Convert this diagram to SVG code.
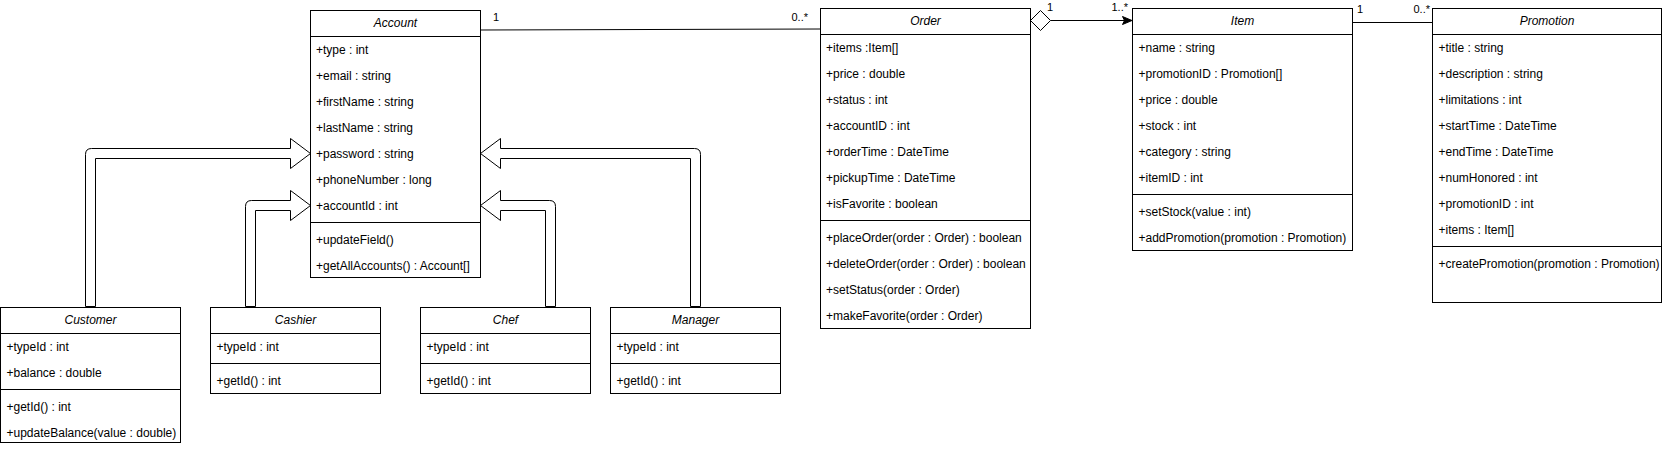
<svg xmlns="http://www.w3.org/2000/svg" width="1663" height="451" viewBox="0 0 1663 451">
<style>
.box{fill:#fff;stroke:#000;stroke-width:1}
.sep{stroke:#000;stroke-width:1;fill:none}
.t{font-family:"Liberation Sans",Arial,Helvetica,sans-serif;font-size:12px;fill:#000}
.h{font-family:"Liberation Sans",Arial,Helvetica,sans-serif;font-size:12px;font-style:italic;fill:#000;text-anchor:middle}
.lbl{font-family:"Liberation Sans",Arial,Helvetica,sans-serif;font-size:11px;fill:#000}
.flex{fill:#fff;stroke:#000;stroke-width:1;stroke-linejoin:miter}
.ln{stroke:#000;stroke-width:1;fill:none}
</style>
<rect width="1663" height="451" fill="#fff"/>
<g id="connectors">
  <path class="flex" d="M85.5 306.5 L85.5 154.5 Q85.5 148.5 91.5 148.5 L290.5 148.5 L290.5 138.5 L310.5 153.5 L290.5 168.5 L290.5 158.5 L95.5 158.5 L95.5 306.5 Z"/>
  <path class="flex" d="M245.5 306.5 L245.5 206.5 Q245.5 200.5 251.5 200.5 L290.5 200.5 L290.5 190.5 L310.5 205.5 L290.5 220.5 L290.5 210.5 L255.5 210.5 L255.5 306.5 Z"/>
  <path class="flex" d="M555.5 306.5 L555.5 206.5 Q555.5 200.5 549.5 200.5 L500.5 200.5 L500.5 190.5 L480.5 205.5 L500.5 220.5 L500.5 210.5 L545.5 210.5 L545.5 306.5 Z"/>
  <path class="flex" d="M700.5 306.5 L700.5 154.5 Q700.5 148.5 694.5 148.5 L500.5 148.5 L500.5 138.5 L480.5 153.5 L500.5 168.5 L500.5 158.5 L690.5 158.5 L690.5 306.5 Z"/>
  <path class="ln" d="M480.5 30 L820.5 29"/>
  <text class="lbl" x="493" y="21">1</text>
  <text class="lbl" x="808" y="21" text-anchor="end">0..*</text>
  <path class="ln" d="M1050.5 20.5 L1125 20.5"/>
  <path d="M1030.5 20.5 L1040.5 10.5 L1050.5 20.5 L1040.5 30.5 Z" fill="#fff" stroke="#000" stroke-width="1"/>
  <path d="M1132 20.5 L1122.5 16.5 L1124.5 20.5 L1122.5 24.5 Z" fill="#000" stroke="#000" stroke-width="1"/>
  <text class="lbl" x="1047" y="11">1</text>
  <text class="lbl" x="1128" y="11" text-anchor="end">1..*</text>
  <path class="ln" d="M1352.5 22.5 L1432.5 22.5"/>
  <text class="lbl" x="1357" y="13">1</text>
  <text class="lbl" x="1430" y="13" text-anchor="end">0..*</text>
</g>
<g id="account">
  <rect class="box" x="310.5" y="10.5" width="170" height="267"/>
  <path class="sep" d="M310.5 36.5 H480.5 M310.5 222.5 H480.5"/>
  <text class="h" x="395.5" y="27">Account</text>
  <text class="t" x="316" y="54">+type : int</text>
  <text class="t" x="316" y="80">+email : string</text>
  <text class="t" x="316" y="106">+firstName : string</text>
  <text class="t" x="316" y="132">+lastName : string</text>
  <text class="t" x="316" y="158">+password : string</text>
  <text class="t" x="316" y="184">+phoneNumber : long</text>
  <text class="t" x="316" y="210">+accountId : int</text>
  <text class="t" x="316" y="244">+updateField()</text>
  <text class="t" x="316" y="270">+getAllAccounts() : Account[]</text>
</g>
<g id="order">
  <rect class="box" x="820.5" y="8.5" width="210" height="320"/>
  <path class="sep" d="M820.5 34.5 H1030.5 M820.5 220.5 H1030.5"/>
  <text class="h" x="925.5" y="25">Order</text>
  <text class="t" x="826" y="52">+items :Item[]</text>
  <text class="t" x="826" y="78">+price : double</text>
  <text class="t" x="826" y="104">+status : int</text>
  <text class="t" x="826" y="130">+accountID : int</text>
  <text class="t" x="826" y="156">+orderTime : DateTime</text>
  <text class="t" x="826" y="182">+pickupTime : DateTime</text>
  <text class="t" x="826" y="208">+isFavorite : boolean</text>
  <text class="t" x="826" y="242">+placeOrder(order : Order) : boolean</text>
  <text class="t" x="826" y="268">+deleteOrder(order : Order) : boolean</text>
  <text class="t" x="826" y="294">+setStatus(order : Order)</text>
  <text class="t" x="826" y="320">+makeFavorite(order : Order)</text>
</g>
<g id="item">
  <rect class="box" x="1132.5" y="8.5" width="220" height="242"/>
  <path class="sep" d="M1132.5 34.5 H1352.5 M1132.5 194.5 H1352.5"/>
  <text class="h" x="1242.5" y="25">Item</text>
  <text class="t" x="1138.5" y="52">+name : string</text>
  <text class="t" x="1138.5" y="78">+promotionID : Promotion[]</text>
  <text class="t" x="1138.5" y="104">+price : double</text>
  <text class="t" x="1138.5" y="130">+stock : int</text>
  <text class="t" x="1138.5" y="156">+category : string</text>
  <text class="t" x="1138.5" y="182">+itemID : int</text>
  <text class="t" x="1138.5" y="216">+setStock(value : int)</text>
  <text class="t" x="1138.5" y="242">+addPromotion(promotion : Promotion)</text>
</g>
<g id="promotion">
  <rect class="box" x="1432.5" y="8.5" width="229" height="294"/>
  <path class="sep" d="M1432.5 34.5 H1661.5 M1432.5 246.5 H1661.5"/>
  <text class="h" x="1547" y="25">Promotion</text>
  <text class="t" x="1438.5" y="52">+title : string</text>
  <text class="t" x="1438.5" y="78">+description : string</text>
  <text class="t" x="1438.5" y="104">+limitations : int</text>
  <text class="t" x="1438.5" y="130">+startTime : DateTime</text>
  <text class="t" x="1438.5" y="156">+endTime : DateTime</text>
  <text class="t" x="1438.5" y="182">+numHonored : int</text>
  <text class="t" x="1438.5" y="208">+promotionID : int</text>
  <text class="t" x="1438.5" y="234">+items : Item[]</text>
  <text class="t" x="1438.5" y="268">+createPromotion(promotion : Promotion)</text>
</g>
<g id="customer">
  <rect class="box" x="0.5" y="307.5" width="180" height="135"/>
  <path class="sep" d="M0.5 333.5 H180.5 M0.5 389.5 H180.5"/>
  <text class="h" x="90.5" y="324">Customer</text>
  <text class="t" x="6.5" y="351">+typeId : int</text>
  <text class="t" x="6.5" y="377">+balance : double</text>
  <text class="t" x="6.5" y="411">+getId() : int</text>
  <text class="t" x="6.5" y="437">+updateBalance(value : double)</text>
</g>
<g id="cashier">
  <rect class="box" x="210.5" y="307.5" width="170" height="86"/>
  <path class="sep" d="M210.5 333.5 H380.5 M210.5 363.5 H380.5"/>
  <text class="h" x="295.5" y="324">Cashier</text>
  <text class="t" x="216.5" y="351">+typeId : int</text>
  <text class="t" x="216.5" y="385">+getId() : int</text>
</g>
<g id="chef">
  <rect class="box" x="420.5" y="307.5" width="170" height="86"/>
  <path class="sep" d="M420.5 333.5 H590.5 M420.5 363.5 H590.5"/>
  <text class="h" x="505.5" y="324">Chef</text>
  <text class="t" x="426.5" y="351">+typeId : int</text>
  <text class="t" x="426.5" y="385">+getId() : int</text>
</g>
<g id="manager">
  <rect class="box" x="610.5" y="307.5" width="170" height="86"/>
  <path class="sep" d="M610.5 333.5 H780.5 M610.5 363.5 H780.5"/>
  <text class="h" x="695.5" y="324">Manager</text>
  <text class="t" x="616.5" y="351">+typeId : int</text>
  <text class="t" x="616.5" y="385">+getId() : int</text>
</g>
</svg>
